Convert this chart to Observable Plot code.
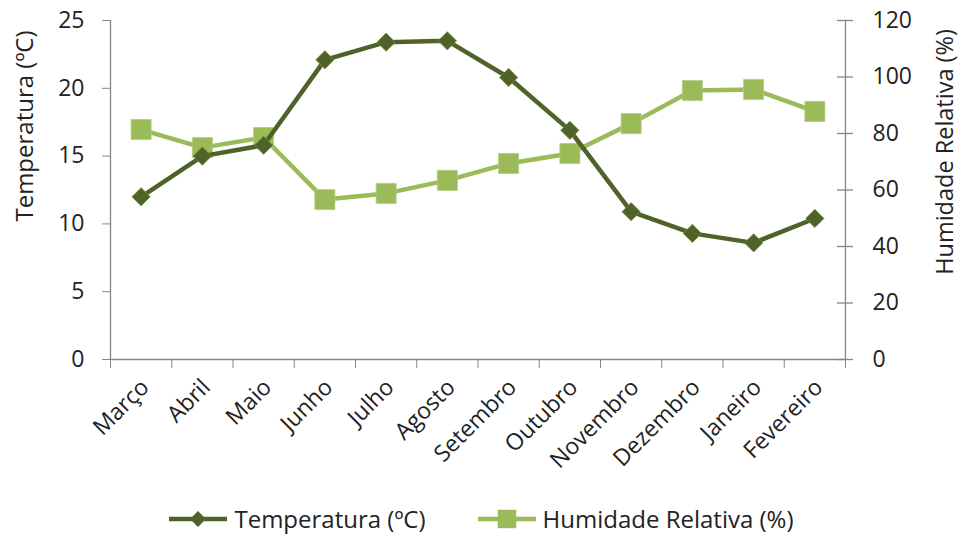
<!DOCTYPE html>
<html>
<head>
<meta charset="utf-8">
<script src="https://cdn.jsdelivr.net/npm/d3@7"></script>
<script src="https://cdn.jsdelivr.net/npm/@observablehq/plot@0.6"></script>
<style>
  body { margin: 0; background: #fff; font-family: "Open Sans", sans-serif; }
  #chart svg { display: block; }
  #legend { height: 32px; padding-top: 3px; display: flex; align-items: center; justify-content: center; gap: 50px; font-size: 24px; line-height: 1; color: #222; }
  .item { display: flex; align-items: center; gap: 5px; }
</style>
</head>
<body>
<div id="chart"></div>
<div id="legend"></div>
<script>
const months = ["Março","Abril","Maio","Junho","Julho","Agosto","Setembro","Outubro","Novembro","Dezembro","Janeiro","Fevereiro"];
const temperatura = [12.0, 15.0, 15.8, 22.1, 23.4, 23.5, 20.8, 16.9, 10.9, 9.3, 8.6, 10.4];
const humidade = [81.4, 75.0, 78.6, 56.6, 58.8, 63.4, 69.4, 72.9, 83.5, 95.2, 95.6, 87.8];
const leftTicks = [0, 5, 10, 15, 20, 25];
const rightTicks = [0, 20, 40, 60, 80, 100, 120];

const cTemp = "#4f6228";
const cHum = "#9bbb59";
const axisColor = "#868686";
const textColor = "#222";
const scaleH = 25 / 120;

const data = months.map((m, i) => ({i, m, t: temperatura[i], h: humidade[i], hy: humidade[i] * scaleH}));
const boundaries = d3.range(months.length + 1).map(d => d - 0.5);
const xMax = months.length - 0.5;

const plot = Plot.plot({
  width: 961,
  height: 500,
  marginLeft: 110,
  marginRight: 116,
  marginTop: 20,
  marginBottom: 141,
  style: {fontFamily: "Open Sans, sans-serif", fontSize: "23px", color: textColor},
  x: {type: "linear", domain: [-0.5, xMax]},
  y: {domain: [0, 25]},
  marks: [
    // left axis
    Plot.axisY({ticks: leftTicks, tickSize: 8, tickPadding: 18, stroke: axisColor, color: textColor, label: null, fontSize: 23}),
    Plot.ruleX([-0.5], {stroke: axisColor, strokeWidth: 1.3}),
    // right axis
    Plot.axisY({anchor: "right", ticks: rightTicks.map(v => v * scaleH), tickFormat: v => Math.round(v / scaleH), tickSize: 0, tickPadding: 27, color: textColor, label: null, fontSize: 23}),
    Plot.ruleY(rightTicks.map(v => v * scaleH), {x1: xMax, x2: xMax, insetLeft: -8, insetRight: -8, stroke: axisColor, strokeWidth: 1.3}),
    Plot.ruleX([xMax], {stroke: axisColor, strokeWidth: 1.3}),
    // bottom axis
    Plot.ruleY([0], {stroke: axisColor, strokeWidth: 1.3}),
    Plot.axisX({ticks: boundaries, tickFormat: () => "", tickSize: 9, stroke: axisColor, label: null}),
    Plot.axisX({ticks: d3.range(months.length), tickFormat: i => months[i], tickSize: 0, tickPadding: 10, tickRotate: -45, color: textColor, label: null, fontSize: 23, dx: 4, dy: 14}),
    // axis titles
    Plot.text(["Temperatura (ºC)"], {frameAnchor: "left", textAnchor: "middle", rotate: -90, dx: -85, dy: -64, fontSize: 24, fill: textColor}),
    Plot.text(["Humidade Relativa (%)"], {frameAnchor: "right", textAnchor: "middle", rotate: -90, dx: 100, dy: -38, fontSize: 23.5, fill: textColor}),
    // series
    Plot.line(data, {x: "i", y: "hy", stroke: cHum, strokeWidth: 4.5}),
    Plot.dot(data, {x: "i", y: "hy", symbol: "square", r: 11.3, fill: cHum, stroke: "#b3cc82", strokeWidth: 0.8}),
    Plot.line(data, {x: "i", y: "t", stroke: cTemp, strokeWidth: 4.5}),
    Plot.dot(data, {x: "i", y: "t", symbol: "diamond2", r: 8.2, fill: cTemp, stroke: "#6f8a3c", strokeWidth: 0.8})
  ]
});
document.getElementById("chart").appendChild(plot);

// legend
const legend = d3.select("#legend");
const items = [
  {label: "Temperatura (ºC)", color: cTemp, symbol: d3.symbolDiamond2, size: 160},
  {label: "Humidade Relativa (%)", color: cHum, symbol: d3.symbolSquare, size: 340}
];
for (const it of items) {
  const div = legend.append("div").attr("class", "item");
  const s = div.append("svg").attr("width", 62).attr("height", 24);
  s.append("line").attr("x1", 2).attr("x2", 60).attr("y1", 12).attr("y2", 12).attr("stroke", it.color).attr("stroke-width", 4.5);
  s.append("path").attr("d", d3.symbol(it.symbol, it.size)()).attr("transform", "translate(31,12)").attr("fill", it.color);
  div.append("span").text(it.label);
}
</script>
</body>
</html>
